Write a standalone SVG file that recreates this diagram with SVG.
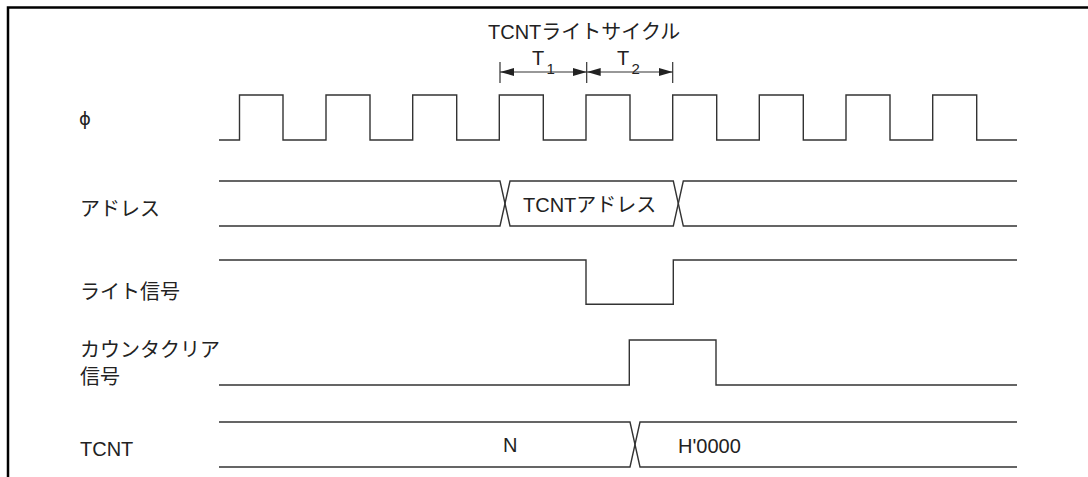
<svg xmlns="http://www.w3.org/2000/svg" width="1088" height="477" viewBox="0 0 1088 477">
<style>
.w{fill:none;stroke:#333;stroke-width:1.4;stroke-linejoin:miter}
.t{font-family:"Liberation Sans","Noto Sans CJK JP",sans-serif;font-size:20px;fill:#222}
.s{font-family:"Liberation Sans",sans-serif;font-size:15px;fill:#222}
.d{fill:none;stroke:#333;stroke-width:1.2}
</style>
<defs>
<marker id="ah" viewBox="0 0 14 8" refX="14" refY="4" markerWidth="14" markerHeight="8" markerUnits="userSpaceOnUse" orient="auto-start-reverse">
<path d="M0,0 L14,4 L0,8 Z" fill="#222"/>
</marker>
</defs>
<rect width="1088" height="477" fill="#fff"/>
<path d="M8,477 V7.5 H1088" fill="none" stroke="#000" stroke-width="2.5"/>

<g id="title">
<text class="t" x="488" y="39">TCNTライトサイクル</text>
<text class="t" x="532" y="65">T</text><text class="s" x="546.5" y="74">1</text>
<text class="t" x="617" y="65">T</text><text class="s" x="631.5" y="74">2</text>
</g>

<g id="connectors">
<path class="d" d="M500,62 V83 M586.7,62 V83 M672.7,62 V83"/>
<path class="d" d="M500,72 H586.7" marker-start="url(#ah)" marker-end="url(#ah)"/>
<path class="d" d="M586.7,72 H672.7" marker-start="url(#ah)" marker-end="url(#ah)"/>
</g>

<g id="phi">
<text x="79" y="125" style="font-family:'DejaVu Sans','Liberation Sans',sans-serif;font-size:18px;fill:#222">ϕ</text>
<path class="w" d="M219,140 H239.5 V95 H283 V140 H326 V95 H370 V140 H412.7 V95 H456.7 V140 H499.3 V95 H543.3 V140 H586 V95 H630 V140 H672.7 V95 H716.7 V140 H759.3 V95 H803.3 V140 H846 V95 H890 V140 H932.7 V95 H976.7 V140 H1017"/>
</g>

<g id="address">
<text class="t" x="80" y="216">アドレス</text>
<path class="w" d="M219,181 H500 L510,226 H673.3 L683.3,181 H1017"/>
<path class="w" d="M219,226 H500 L510,181 H673.3 L683.3,226 H1017"/>
<text class="t" x="523" y="212">TCNTアドレス</text>
</g>

<g id="write">
<text class="t" x="80" y="299">ライト信号</text>
<path class="w" d="M219,260 H586 V304.3 H673.3 V260 H1017"/>
</g>

<g id="clear">
<text class="t" x="80" y="357">カウンタクリア</text>
<text class="t" x="80" y="384">信号</text>
<path class="w" d="M219,385 H629.3 V340 H716 V385 H1017"/>
</g>

<g id="tcnt">
<text class="t" x="80" y="456">TCNT</text>
<path class="w" d="M219,422 H630 L640,467 H1017"/>
<path class="w" d="M219,467 H630 L640,422 H1017"/>
<text class="t" x="503" y="452">N</text>
<text class="t" x="678" y="453">H'0000</text>
</g>
</svg>
